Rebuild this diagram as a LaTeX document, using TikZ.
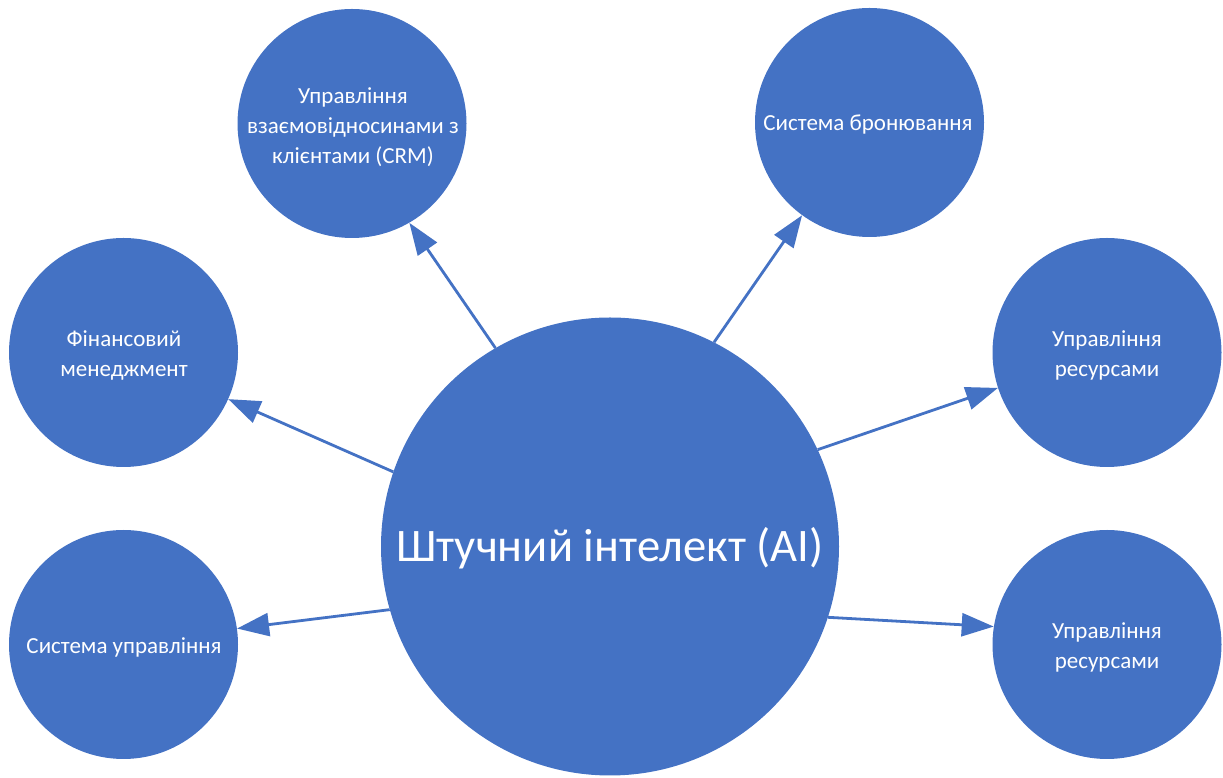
\documentclass[tikz,border=0pt]{standalone}
\usepackage{fontspec}
\setmainfont{Carlito}
\usetikzlibrary{arrows.meta}
\definecolor{wblue}{HTML}{4472C4}
\tikzset{
  bubble/.style={circle, fill=wblue, draw=none, inner sep=0pt},
  smallc/.style={bubble, minimum size=229pt},
  bigc/.style={bubble, minimum size=458pt},
  smalltxt/.style={text=white, align=center, font=\fontsize{23}{30}\selectfont, inner sep=0pt},
  bigtxt/.style={text=white, align=center, font=\fontsize{46.6}{55}\selectfont, inner sep=0pt},
  link/.style={draw=wblue, line width=2.8pt, -{Triangle[length=32pt, width=23pt]}}
}
\begin{document}
\begin{tikzpicture}[x=1pt, y=1pt]
\useasboundingbox (0,0) rectangle (1223,778);
\node[bigc] (ai) at (610,231.5) {};
\node[smallc] (crm) at (352,654.5) {};
\node[smallc] (br) at (869.5,655.5) {};
\node[smallc] (fin) at (123.5,425.5) {};
\node[smallc] (rt) at (1107,425.5) {};
\node[smallc] (su) at (123.5,133.5) {};
\node[smallc] (rb) at (1107,133.5) {};
\node[bigtxt] (ait) at (610,230) {Штучний інтелект (AI)};
\node[smalltxt] (crmt) at (353,651) {Управління\\взаємовідносинами з\\клієнтами (CRM)};
\node[smalltxt] (brt) at (868,653) {Система бронювання};
\node[smalltxt] (fint) at (124,423) {Фінансовий\\менеджмент};
\node[smalltxt] (rtt) at (1107,423) {Управління\\ресурсами};
\node[smalltxt] (sut) at (124,131) {Система управління};
\node[smalltxt] (rbt) at (1107,131) {Управління\\ресурсами};
\draw[link] (ai.120.4) -- (crm.-60.2);
\draw[link] (ai.161.1) -- (fin.-24.2);
\draw[link] (ai.63.7) -- (br.234.3);
\draw[link] (ai.25.6) -- (rt.198.2);
\draw[link] (ai.196.6) -- (su.8.8);
\draw[link] (ai.-18.2) -- (rb.171.7);
\end{tikzpicture}
\end{document}
